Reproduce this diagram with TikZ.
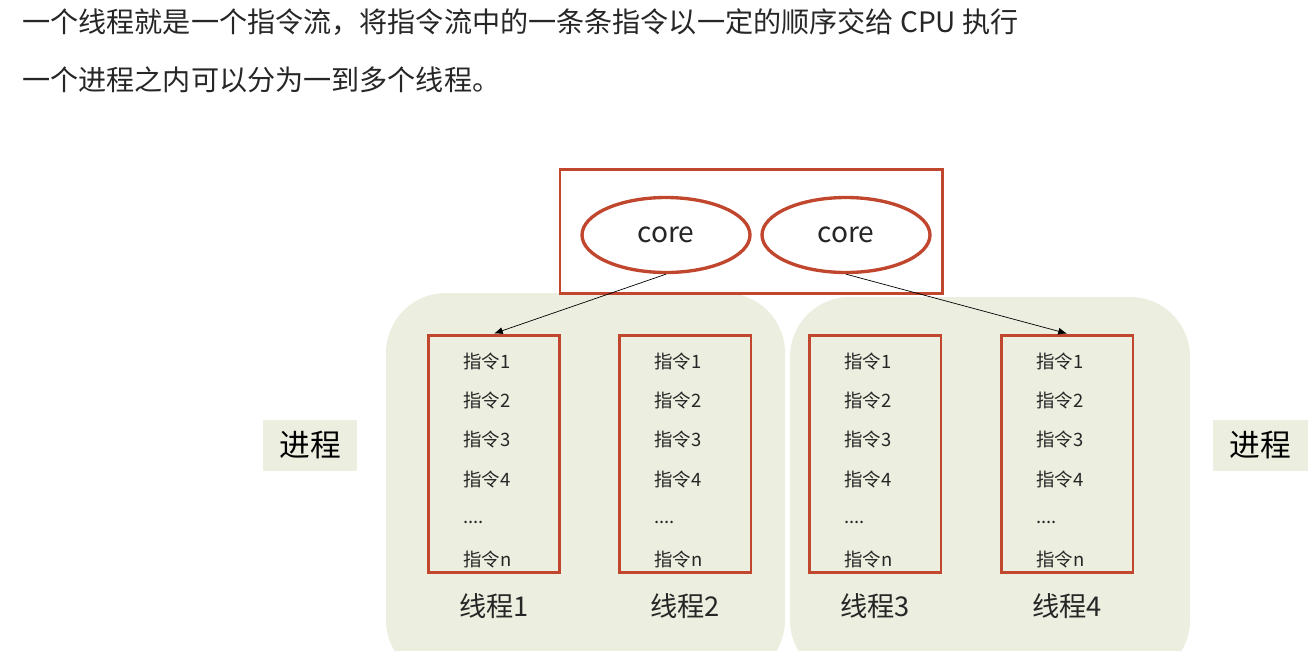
\documentclass[tikz,border=0pt]{standalone}
\usepackage{fontspec}
\setmainfont{Noto Sans CJK SC}
\usetikzlibrary{positioning, arrows.meta, shapes.geometric}
\definecolor{rust}{RGB}{192,70,46}
\definecolor{procbg}{RGB}{236,239,224}
\definecolor{ink}{RGB}{38,38,38}
\newcommand{\instrdots}{....}

\begin{document}
\begin{tikzpicture}[x=0.02cm, y=-0.02cm,
    core/.style={ellipse, draw=rust, line width=1.9pt, inner sep=0pt,
      minimum width=3.36cm, minimum height=1.5cm, text=ink,
      font=\fontsize{16}{19}\selectfont},
    thread/.style={draw=rust, line width=1.7pt, inner sep=0pt,
      minimum width=2.64cm, minimum height=4.76cm},
    instr/.style={anchor=west, inner sep=0pt, text=ink,
      font=\fontsize{10.5}{12}\selectfont},
    tlabel/.style={text=ink, font=\fontsize{15.5}{18}\selectfont},
    plabel/.style={fill=procbg, minimum width=1.9cm, minimum height=1.02cm,
      text=black, font=\fontsize{17.5}{20}\selectfont},
    headline/.style={anchor=west, inner sep=0pt, text=ink,
      font=\fontsize{16}{19}\selectfont}]
  \useasboundingbox (0,0) rectangle (1312,650);
  % Überschrift
  \node[headline] (line1) at (22,22)
    {一个线程就是一个指令流，将指令流中的一条条指令以一定的顺序交给 CPU 执行};
  \node[headline] (line2) at (22,80) {一个进程之内可以分为一到多个线程。};
  % Prozess-Hintergrund
  \fill[procbg, rounded corners=34pt] (386,293) rectangle (785,680);
  \fill[procbg, rounded corners=34pt] (790,297) rectangle (1190,680);
  \node[plabel] (p1) at (310,445) {进程};
  \node[plabel] (p2) at (1260,445) {进程};
  % CPU
  \draw[rust, line width=1.7pt] (560,169) rectangle (942,293);
  \node[core] (c1) at (666,235) {core};
  \node[core] (c2) at (846,235) {core};
  % Threads
  \foreach \t/\x in {1/494, 2/685, 3/875, 4/1067} {
    \node[thread] (t\t) at (\x,454) {};
    \node[tlabel] (l\t) at (\x,606) {线程\t};
    \foreach \r/\y/\txt in {1/361/指令1, 2/400/指令2, 3/439/指令3,
                            4/479/指令4, 5/522/\instrdots, 6/559/指令n}
      \node[instr] (t\t-\r) at (\x-31,\y) {\txt};
  }
  % Zuordnung core -> thread
  \draw[-{Latex[length=5pt, width=4pt]}, thin] (c1.south) -- (t1.north);
  \draw[-{Latex[length=5pt, width=4pt]}, thin] (c2.south) -- (t4.north);
\end{tikzpicture}
\end{document}
